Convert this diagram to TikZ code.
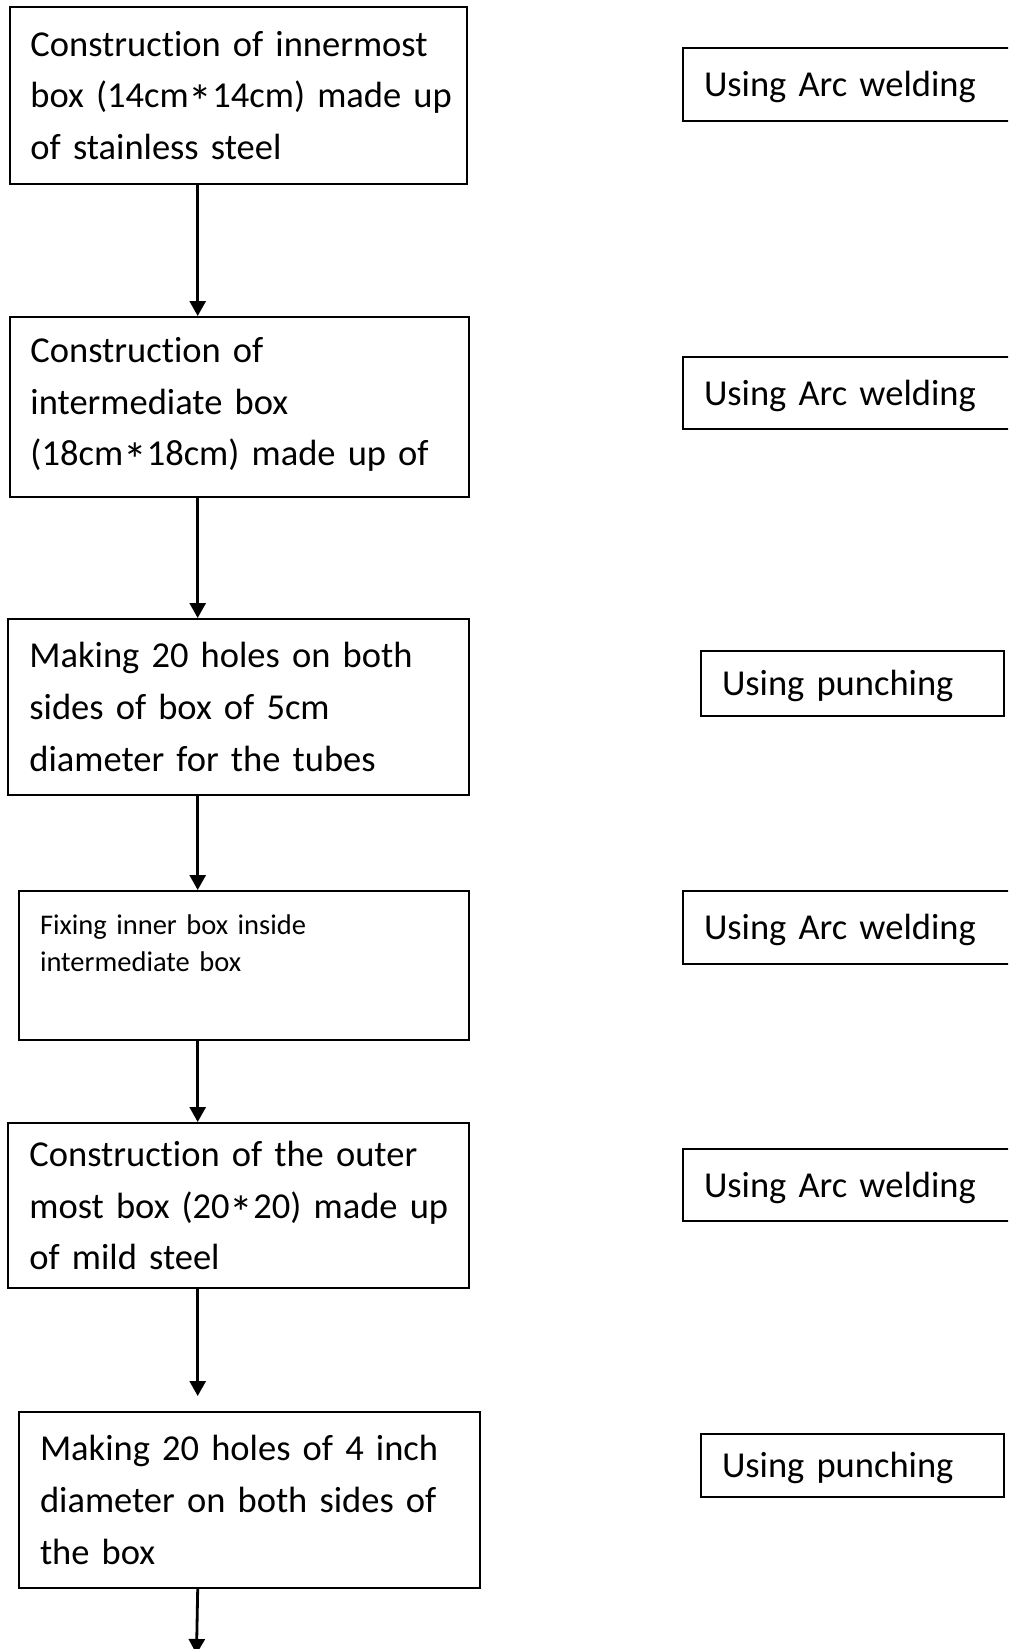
\documentclass[tikz,border=0pt]{standalone}
\usepackage{fontspec}
\setmainfont{Carlito}[Ligatures=NoCommon]
\usetikzlibrary{arrows.meta}
\newcommand{\lowstar}{\raisebox{-0.3em}{\scalebox{1.3}{*}}}

\begin{document}
\begin{tikzpicture}[x=0.5pt, y=-0.5pt,
    stepbox/.style={draw, line width=1pt, align=left, inner xsep=10.5pt, inner ysep=0pt, font=\fontsize{18.25}{25.85}\selectfont},
    methodbox/.style={draw, line width=1pt, align=left, anchor=west, inner xsep=10.5pt, inner ysep=0pt, text height=12.5pt, text depth=0.3pt, font=\fontsize{18.25}{25.85}\selectfont},
    flow/.style={line width=1.4pt, -{Triangle[width=8pt, length=7.5pt]}}]
    \useasboundingbox (0,0) rectangle (1008,1649);
    \clip (0,0) rectangle (1008,1649);

    % Steps
    \node[stepbox, text width=207.75pt, minimum height=88.5pt] (s1) at (238.25,95.5) {Construction of innermost\\ box~(14cm\lowstar14cm)~made~up\\ of stainless steel};
    \node[stepbox, text width=208.75pt, minimum height=90pt] (s2) at (239.25,407) {Construction of\\ intermediate box\\ (18cm\lowstar18cm) made up of};
    \node[stepbox, text width=209.3pt, minimum height=88pt] (s3) at (238.7,707) {Making 20 holes on both\\ sides of box of 5cm\\ diameter for the tubes};
    \node[stepbox, text width=204pt, minimum height=74.5pt, text depth=41pt, font=\fontsize{14.25}{18.7}\selectfont] (s4) at (244,965.5) {Fixing inner box inside\\ intermediate box};
    \node[stepbox, text width=209.3pt, minimum height=82.5pt] (s5) at (238.7,1205.5) {Construction of the outer\\ most~box~(20\lowstar20)~made~up\\ of mild steel};
    \node[stepbox, text width=209.5pt, minimum height=88pt] (s6) at (249.5,1500) {Making 20 holes of 4 inch\\ diameter on both sides of\\ the box};

    % Methods
    \node[methodbox, text width=153pt, minimum height=36.5pt] (m1) at (682,84.5) {Using Arc welding};
    \node[methodbox, text width=153pt, minimum height=36.3pt] (m2) at (682,393) {Using Arc welding};
    \node[methodbox, text width=130.5pt, minimum height=32.5pt] (m3) at (700,683.5) {Using punching};
    \node[methodbox, text width=153pt, minimum height=36.3pt] (m4) at (682,927.5) {Using Arc welding};
    \node[methodbox, text width=153pt, minimum height=36pt] (m5) at (682,1185) {Using Arc welding};
    \node[methodbox, text width=130.5pt, minimum height=31.5pt] (m6) at (700,1465.5) {Using punching};

    % Flow
    \coordinate (spine) at (197.7,0);
    \coordinate (tail) at (196.5,1654);
    \draw[flow] (s1.south -| spine) -- (s2.north -| spine);
    \draw[flow] (s2.south -| spine) -- (s3.north -| spine);
    \draw[flow] (s3.south -| spine) -- (s4.north -| spine);
    \draw[flow] (s4.south -| spine) -- (s5.north -| spine);
    \draw[flow, shorten >=7.5pt] (s5.south -| spine) -- (s6.north -| spine);
    \draw[flow] (s6.south -| spine) -- (tail);
\end{tikzpicture}
\end{document}
